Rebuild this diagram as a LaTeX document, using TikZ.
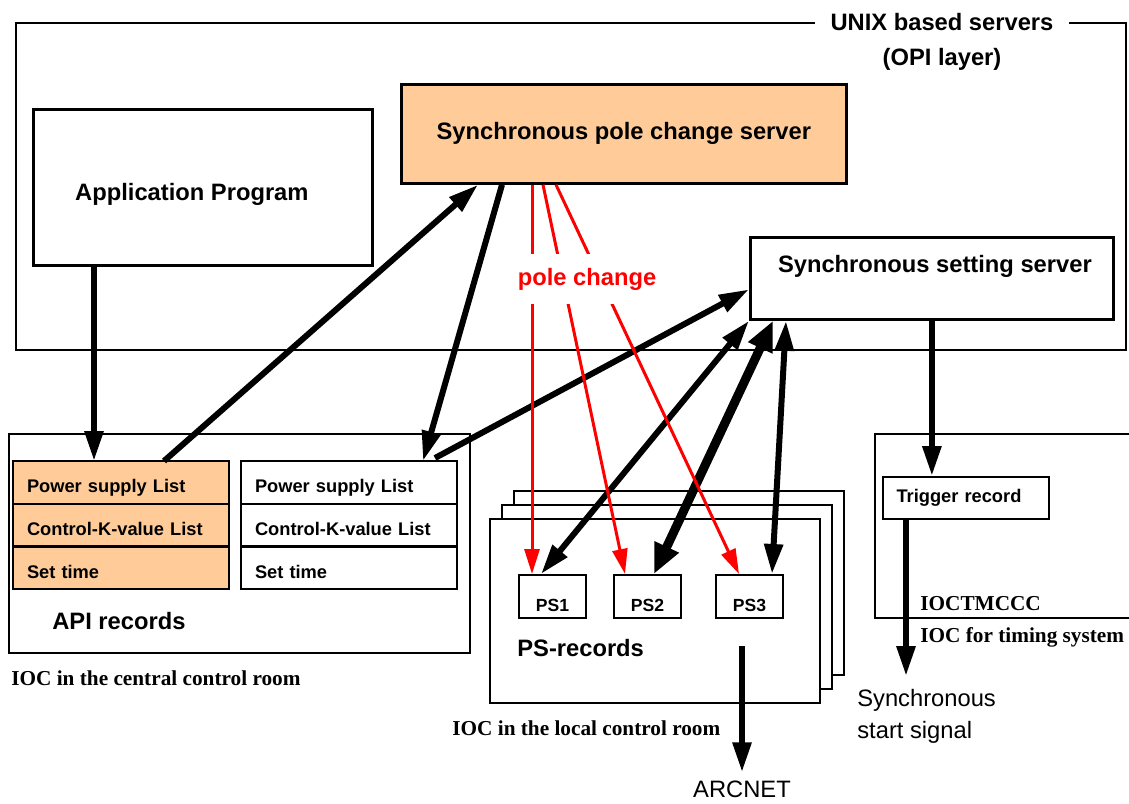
\documentclass[tikz,border=0pt]{standalone}
\usepackage{fontspec}
\setmainfont{Liberation Sans}
\newfontfamily\timesfont{Liberation Serif}
\usetikzlibrary{positioning, arrows.meta, calc}
\newlength{\pxu}
\setlength{\pxu}{0.2mm}
\definecolor{peach}{HTML}{FFCC99}
\tikzset{
  >={Triangle[length=6mm, width=3.6mm]},
  big/.style={font=\fontsize{13.5}{16}\selectfont\bfseries},
  mid/.style={font=\fontsize{10.4}{12}\selectfont\bfseries},
  iocname/.style={font=\fontsize{12.1}{14}\selectfont\timesfont\bfseries},
  plain/.style={font=\fontsize{13.5}{18.1}\selectfont},
  txt/.style={inner sep=0pt, anchor=west},
  frame/.style={draw, line width=0.45mm, inner sep=0pt},
  box/.style={draw, line width=0.55mm, inner sep=0pt},
  row/.style={draw, line width=0.45mm, outer sep=0pt, minimum height=42.7\pxu, text width=188\pxu, inner xsep=14\pxu, inner ysep=0pt, text height=12pt, text depth=0pt, align=left, mid},
  psbox/.style={draw, line width=0.4mm, minimum width=67\pxu, minimum height=43\pxu, inner sep=0pt, text height=17pt, text depth=0pt, font=\fontsize{10}{12}\selectfont\bfseries},
  flow/.style={line width=1.2mm, ->},
  both/.style={line width=1.2mm, <->},
  fat/.style={line width=1.8mm, {Triangle[length=6mm, width=5mm]}-{Triangle[length=6mm, width=5mm]}},
  pole/.style={red, line width=0.6mm, -{Triangle[length=5mm, width=3mm]}},
}

\begin{document}
\begin{tikzpicture}[x=0.2mm, y=-0.2mm]
  \useasboundingbox (0,0) rectangle (1129,803);
  \clip (0,0) rectangle (1129,803);

  % OPI layer
  \node[frame, minimum width=1110\pxu, minimum height=327\pxu, anchor=north west] (unix) at (15,22) {};
  \node[big, fill=white, inner xsep=16\pxu, inner ysep=2pt] (unixlbl) at (942,22) {UNIX based servers};
  \node[big] (opi) at (942,59) {(OPI layer)};
  \node[box, fill=peach, minimum width=445\pxu, minimum height=99\pxu, anchor=north west, big] (pcs) at (400,83) {Synchronous pole change server};
  \node[box, minimum width=339\pxu, minimum height=156\pxu, anchor=north west,
    label={[big, xshift=-11\pxu, yshift=-7\pxu]center:Application Program}] (app) at (32,108) {};
  \node[box, minimum width=363\pxu, minimum height=82\pxu, anchor=north west,
    label={[big, xshift=3\pxu, yshift=12\pxu]center:Synchronous setting server}] (sset) at (749,236) {};

  % central control room
  \node[frame, minimum width=461\pxu, minimum height=219\pxu, anchor=north west] (cioc) at (8,433) {};
  \node[row, fill=peach, anchor=north west] (lps) at (13,461) {Power supply List};
  \node[row, fill=peach, below=0pt of lps] (lck) {Control-K-value List};
  \node[row, fill=peach, below=0pt of lck] (lst) {Set time};
  \node[row, anchor=north west] (rps) at (241,461) {Power supply List};
  \node[row, below=0pt of rps] (rck) {Control-K-value List};
  \node[row, below=0pt of rck] (rst) {Set time};
  \node[big, txt] (apirec) at (52,621) {API records};
  \node[iocname, txt] (cname) at (11,678) {IOC in the central control room};

  % local control room
  \node[frame, fill=white, minimum width=330\pxu, minimum height=184\pxu, anchor=north west] (psback) at (513,490) {};
  \node[frame, fill=white, minimum width=330\pxu, minimum height=184\pxu, anchor=north west] (psmid) at (501,504) {};
  \node[frame, fill=white, minimum width=330\pxu, minimum height=184\pxu, anchor=north west] (psfront) at (489,518) {};
  \node[psbox, anchor=north west] (ps1) at (518,574) {PS1};
  \node[psbox, anchor=north west] (ps2) at (613,574) {PS2};
  \node[psbox, anchor=north west] (ps3) at (715,574) {PS3};
  \node[big, txt] (psrec) at (517,648) {PS-records};
  \node[iocname, txt] (lname) at (452,728) {IOC in the local control room};
  \coordinate (arcsrc) at (742,646);
  \node[plain, inner sep=0pt] (arcnet) at (742,789) {ARCNET};

  % timing system
  \node[frame, minimum width=300\pxu, minimum height=184\pxu, anchor=north west] (tioc) at (874,433) {};
  \node[draw, line width=0.4mm, minimum height=42\pxu, text width=139\pxu, inner xsep=13.5\pxu, align=left, anchor=north west, mid] (trig) at (882,476) {Trigger record};
  \node[iocname, txt] (tname) at (920,604) {IOCTMCCC};
  \node[iocname, txt] (tdesc) at (920,637) {IOC for timing system};
  \node[plain, inner sep=0pt, align=left, anchor=north west] (startsig) at (857,689) {Synchronous\\start signal};
  \coordinate (sigtip) at (906,676);

  % connections
  \draw[flow] ([xshift=62\pxu]app.south west) -- ([xshift=81\pxu]lps.north west);
  \draw[flow] ([xshift=151\pxu]lps.north west) -- ([xshift=78\pxu]pcs.south west);
  \draw[flow] ([xshift=102\pxu]pcs.south west) -- ([xshift=182\pxu]rps.north west);
  \draw[flow] ([xshift=194\pxu, yshift=3\pxu]rps.north west) -- ([yshift=-11\pxu]sset.west);
  \draw[both] ([xshift=23\pxu]ps1.north west) -- (sset.south west);
  \draw[fat] ([xshift=41\pxu]ps2.north west) -- ([xshift=24\pxu]sset.south west);
  \draw[both] ([xshift=57\pxu]ps3.north west) -- ([xshift=37\pxu]sset.south west);
  \draw[flow] (sset.south) -- (sset.south |- trig.north);
  \draw[flow] (trig.south -| sigtip) -- (sigtip);
  \draw[flow, shorten >=1.6mm] (arcsrc) -- (arcnet.north);

  % pole change
  \draw[pole] ([xshift=132\pxu]pcs.south west) -- ([xshift=14\pxu]ps1.north west);
  \draw[pole] ([xshift=143\pxu]pcs.south west) -- ([xshift=12\pxu]ps2.north west);
  \draw[pole] ([xshift=156\pxu]pcs.south west) -- ([xshift=24\pxu]ps3.north west);
  \node[big, text=red, fill=white, minimum height=50\pxu, inner xsep=1pt] (polelbl) at (587,279) {pole change};
\end{tikzpicture}
\end{document}
